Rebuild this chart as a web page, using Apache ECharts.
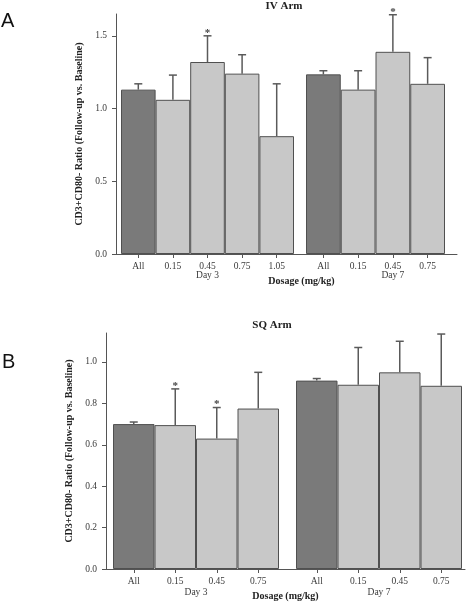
<!DOCTYPE html>
<html><head><meta charset="utf-8">
<script src="https://cdn.jsdelivr.net/npm/echarts@6/dist/echarts.min.js"></script>
<style>html,body{margin:0;padding:0;background:#fff}#c{width:470px;height:603px}</style>
</head><body><div id="c"></div>
<script>
// ---- Data ----
const ivDay3Cats = ['All', '0.15', '0.45', '0.75', '1.05'];
const ivDay3Sub = ['', '', 'Day 3', '', ''];
const ivDay3Vals = [1.13, 1.06, 1.32, 1.24, 0.81];
const ivDay3Upper = [1.17, 1.23, 1.50, 1.37, 1.17];
const ivDay3Sig = [0, 0, 1, 0, 0];

const ivDay7Cats = ['All', '0.15', '0.45', '0.75'];
const ivDay7Sub = ['', '', 'Day 7', ''];
const ivDay7Vals = [1.235, 1.13, 1.39, 1.17];
const ivDay7Upper = [1.26, 1.26, 1.645, 1.35];
const ivDay7Sig = [0, 0, 1, 0];

const sqDay3Cats = ['All', '0.15', '0.45', '0.75'];
const sqDay3Vals = [0.70, 0.695, 0.63, 0.775];
const sqDay3Upper = [0.71, 0.87, 0.78, 0.95];
const sqDay3Sig = [0, 1, 1, 0];

const sqDay7Cats = ['All', '0.15', '0.45', '0.75'];
const sqDay7Vals = [0.91, 0.89, 0.95, 0.885];
const sqDay7Upper = [0.92, 1.07, 1.10, 1.135];
const sqDay7Sig = [0, 0, 0, 0];

const ivYTicks = [0, 0.5, 1.0, 1.5];
const ivYMax = 1.65;
const sqYTicks = [0, 0.2, 0.4, 0.6, 0.8, 1.0];
const sqYMax = 1.14;

const ivTitle = 'IV Arm';
const sqTitle = 'SQ Arm';
const yName = 'CD3+CD80- Ratio (Follow-up vs. Baseline)';
const xName = 'Dosage (mg/kg)';
const sqDay3Name = 'Day 3';
const sqDay7Name = 'Day 7';

// ---- Styles ----
const SERIF = '"Liberation Serif", "DejaVu Serif", serif';
const DARK = '#7a7a7a', LIGHT = '#c8c8c8', BORDER = '#505050', AXIS = '#555', TXT = '#3a3a3a';

const grids = [], xAxes = [], yAxes = [], series = [];

function frame(g, yMax, yTicks, nameGapY, nameGapX, namePadX) {
  grids.push(g);
  const gi = grids.length - 1;
  xAxes.push({
    type: 'value', gridIndex: gi, min: 0, max: 1,
    axisLine: { show: true, lineStyle: { color: AXIS, width: 1 } },
    axisTick: { show: false }, axisLabel: { show: false }, splitLine: { show: false },
    name: xName, nameLocation: 'middle', nameGap: nameGapX,
    nameTextStyle: { fontFamily: SERIF, fontWeight: 'bold', fontSize: 10, color: '#222', padding: [0, 0, 0, namePadX] }
  });
  yAxes.push({
    type: 'value', gridIndex: gi, min: 0, max: yMax,
    axisLine: { show: true, lineStyle: { color: AXIS, width: 1 } },
    axisTick: { show: true, length: 4, customValues: yTicks, lineStyle: { color: AXIS } },
    axisLabel: { customValues: yTicks, formatter: v => v.toFixed(1), fontFamily: SERIF, fontSize: 9.5, color: TXT, margin: 9 },
    splitLine: { show: false },
    name: yName, nameLocation: 'middle', nameGap: nameGapY, nameRotate: 90,
    nameTextStyle: { fontFamily: SERIF, fontWeight: 'bold', fontSize: 10, color: '#222' }
  });
}

function errRender(params, api) {
  const x = api.value(0), lo = api.value(1), hi = api.value(2), sig = api.value(3);
  const p0 = api.coord([x, lo]);
  const p1 = api.coord([x, hi]);
  const cap = 4;
  const st = { stroke: '#5a5a5a', lineWidth: 1.5 };
  const ch = [
    { type: 'line', shape: { x1: p0[0], y1: p0[1], x2: p1[0], y2: p1[1] }, style: st },
    { type: 'line', shape: { x1: p1[0] - cap, y1: p1[1], x2: p1[0] + cap, y2: p1[1] }, style: st }
  ];
  if (sig) ch.push({ type: 'text', style: { text: '*', x: p1[0], y: p1[1] - 3, align: 'center', verticalAlign: 'middle', font: 'bold 11px ' + SERIF, fill: '#444' } });
  return { type: 'group', children: ch };
}

function group(g, cats, sub, vals, upper, sig, yMax, dayName, labelMargin) {
  grids.push(g);
  const gi = grids.length - 1;
  xAxes.push({
    type: 'category', gridIndex: gi, data: cats, boundaryGap: true,
    axisLine: { show: false },
    axisTick: { show: true, alignWithLabel: true, length: 4, lineStyle: { color: AXIS } },
    axisLabel: {
      fontFamily: SERIF, fontSize: 9.5, color: TXT, margin: labelMargin, lineHeight: 9, interval: 0,
      formatter: (v, i) => sub && sub[i] ? v + '\n' + sub[i] : v
    },
    name: dayName || '', nameLocation: 'middle', nameGap: 16,
    nameTextStyle: { fontFamily: SERIF, fontSize: 9.5, color: TXT }
  });
  yAxes.push({ type: 'value', gridIndex: gi, min: 0, max: yMax, show: false, splitLine: { show: false } });
  const ai = xAxes.length - 1;
  series.push({
    type: 'bar', xAxisIndex: ai, yAxisIndex: ai, barCategoryGap: '0%',
    data: vals.map((v, i) => ({ value: v, itemStyle: { color: i === 0 ? DARK : LIGHT } })),
    itemStyle: { borderColor: BORDER, borderWidth: 1 }, z: 2, silent: true
  });
  series.push({
    type: 'custom', xAxisIndex: ai, yAxisIndex: ai, renderItem: errRender, z: 3, silent: true,
    encode: { x: 0, y: [1, 2] },
    data: vals.map((v, i) => [i, v, upper[i], sig[i]])
  });
}

// Panel A (IV)
frame({ left: 116, top: 14, width: 341, height: 240 }, ivYMax, ivYTicks, 31, 22, 30);
group({ left: 121, top: 14, width: 173, height: 240 }, ivDay3Cats, ivDay3Sub, ivDay3Vals, ivDay3Upper, ivDay3Sig, ivYMax, null, 8);
group({ left: 306, top: 14, width: 139, height: 240 }, ivDay7Cats, ivDay7Sub, ivDay7Vals, ivDay7Upper, ivDay7Sig, ivYMax, null, 8);

// Panel B (SQ)
frame({ left: 106, top: 333, width: 359, height: 236 }, sqYMax, sqYTicks, 30, 22, 0);
group({ left: 113, top: 333, width: 166, height: 236 }, sqDay3Cats, null, sqDay3Vals, sqDay3Upper, sqDay3Sig, sqYMax, sqDay3Name, 8);
group({ left: 296, top: 333, width: 166, height: 236 }, sqDay7Cats, null, sqDay7Vals, sqDay7Upper, sqDay7Sig, sqYMax, sqDay7Name, 8);

const chart = echarts.init(document.getElementById('c'), null, { renderer: 'canvas' });
chart.setOption({
  animation: false,
  backgroundColor: '#fff',
  title: [
    { text: ivTitle, left: 279, top: -4, textAlign: 'center', textStyle: { fontFamily: SERIF, fontWeight: 'bold', fontSize: 11, color: '#222' } },
    { text: sqTitle, left: 267, top: 315, textAlign: 'center', textStyle: { fontFamily: SERIF, fontWeight: 'bold', fontSize: 11, color: '#222' } }
  ],
  graphic: [
    { type: 'text', left: 1, top: 11, style: { text: 'A', font: '20px "Liberation Sans", Arial, sans-serif', fill: '#111' } },
    { type: 'text', left: 2, top: 352, style: { text: 'B', font: '20px "Liberation Sans", Arial, sans-serif', fill: '#111' } }
  ],
  grid: grids, xAxis: xAxes, yAxis: yAxes, series: series
});
</script></body></html>
